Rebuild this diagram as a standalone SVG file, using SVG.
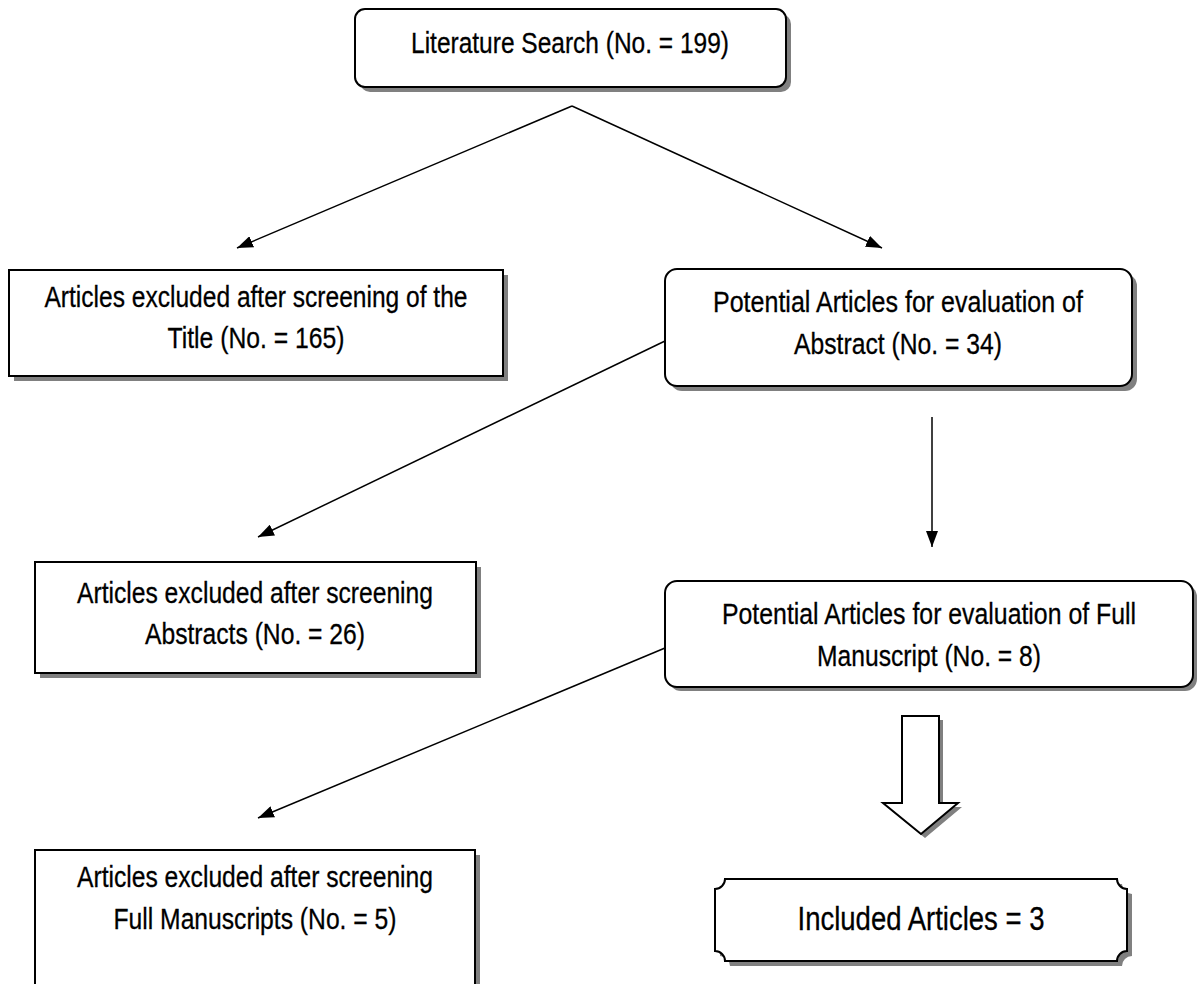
<svg xmlns="http://www.w3.org/2000/svg" width="1198" height="984" viewBox="0 0 1198 984">
  <defs>
    <marker id="ah" viewBox="0 0 16 12" refX="16" refY="6" markerWidth="16" markerHeight="12" markerUnits="userSpaceOnUse" orient="auto">
      <path d="M0,0 L16,6 L0,12 Z" fill="#000"/>
    </marker>
  </defs>
  <style>
    .box { fill: #fff; stroke: #000; stroke-width: 2; }
    .shadow { fill: #808080; stroke: none; }
    .conn { fill: none; stroke: #000; stroke-width: 1.5; marker-end: url(#ah); }
    text { font-family: "Liberation Sans Narrow", "Arial Narrow", "Liberation Sans", sans-serif; font-size: 30px; fill: #000; stroke: #000; stroke-width: 0.3; text-anchor: middle; }
    .big { font-size: 34px; }
  </style>
  <rect width="1198" height="984" fill="#fff"/>

  <g id="connectors">
    <path class="conn" d="M572,106 L237,248"/>
    <path class="conn" d="M572,106 L882,248"/>
    <path class="conn" d="M665,341 L258,537"/>
    <path class="conn" d="M932,417 L932,547"/>
    <path class="conn" d="M665,648 L258,818"/>
    <g id="block-arrow">
      <path class="shadow" d="M906,720 L943,720 L943,807 L962,807 L925,838 L887,807 L906,807 Z"/>
      <path class="box" d="M902,716 L939,716 L939,803 L958,803 L921,834 L883,803 L902,803 Z" stroke-width="1.5"/>
    </g>
  </g>

  <g id="n-search">
    <rect class="shadow" x="360" y="14" width="431" height="78" rx="10"/>
    <rect class="box" x="355" y="9" width="431" height="78" rx="10"/>
    <text x="570" y="53" textLength="318" lengthAdjust="spacingAndGlyphs">Literature Search (No. = 199)</text>
  </g>

  <g id="n-excl-title">
    <rect class="shadow" x="14" y="275" width="494" height="106"/>
    <rect class="box" x="9" y="270" width="494" height="106"/>
    <text x="256" y="307" textLength="423" lengthAdjust="spacingAndGlyphs">Articles excluded after screening of the</text>
    <text x="256" y="348" textLength="177" lengthAdjust="spacingAndGlyphs">Title (No. = 165)</text>
  </g>

  <g id="n-abstract">
    <rect class="shadow" x="670" y="274" width="467" height="117" rx="12"/>
    <rect class="box" x="665" y="269" width="467" height="117" rx="12"/>
    <text x="898" y="312" textLength="370" lengthAdjust="spacingAndGlyphs">Potential Articles for evaluation of</text>
    <text x="898" y="354" textLength="208" lengthAdjust="spacingAndGlyphs">Abstract (No. = 34)</text>
  </g>

  <g id="n-excl-abstract">
    <rect class="shadow" x="40" y="567" width="441" height="111"/>
    <rect class="box" x="35" y="562" width="441" height="111"/>
    <text x="255" y="603" textLength="356" lengthAdjust="spacingAndGlyphs">Articles excluded after screening</text>
    <text x="255" y="644" textLength="220" lengthAdjust="spacingAndGlyphs">Abstracts (No. = 26)</text>
  </g>

  <g id="n-fullms">
    <rect class="shadow" x="669" y="585" width="528" height="106" rx="12"/>
    <rect class="box" x="665" y="581" width="528" height="106" rx="12"/>
    <text x="929" y="624" textLength="414" lengthAdjust="spacingAndGlyphs">Potential Articles for evaluation of Full</text>
    <text x="929" y="666" textLength="224" lengthAdjust="spacingAndGlyphs">Manuscript (No. = 8)</text>
  </g>

  <g id="n-excl-fullms">
    <rect class="shadow" x="40" y="855" width="440" height="140"/>
    <rect class="box" x="35" y="850" width="440" height="140"/>
    <text x="255" y="887" textLength="356" lengthAdjust="spacingAndGlyphs">Articles excluded after screening</text>
    <text x="255" y="929" textLength="283" lengthAdjust="spacingAndGlyphs">Full Manuscripts (No. = 5)</text>
  </g>

  <g id="n-included">
    <path class="shadow" d="M730,884 L1122,884 A10,10 0 0 0 1132,894 L1132,956 A10,10 0 0 0 1122,966 L730,966 A10,10 0 0 0 720,956 L720,894 A10,10 0 0 0 730,884 Z"/>
    <path class="box" d="M725,879 L1117,879 A10,10 0 0 0 1127,889 L1127,951 A10,10 0 0 0 1117,961 L725,961 A10,10 0 0 0 715,951 L715,889 A10,10 0 0 0 725,879 Z"/>
    <text class="big" x="921" y="930" textLength="247" lengthAdjust="spacingAndGlyphs">Included Articles = 3</text>
  </g>
</svg>
